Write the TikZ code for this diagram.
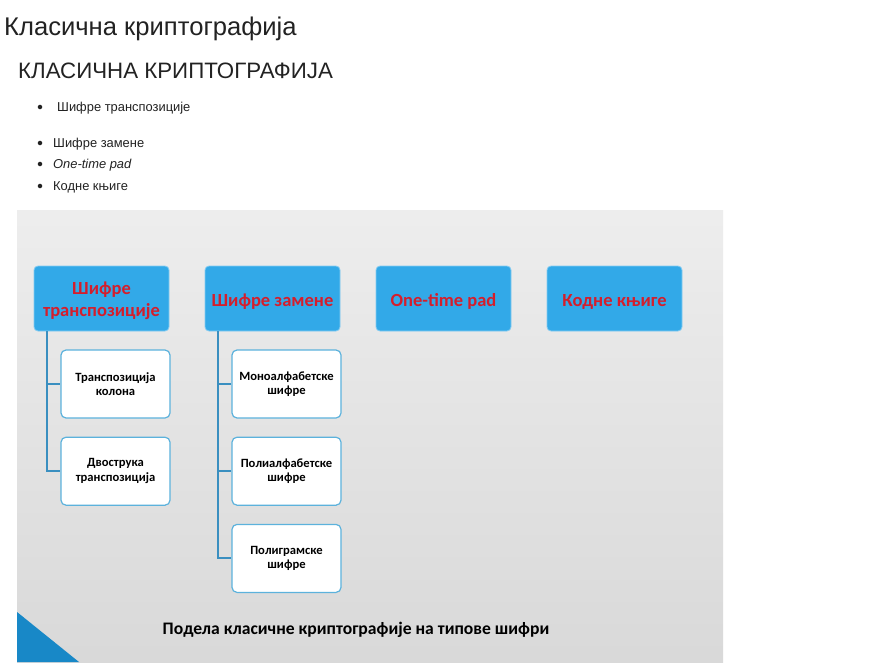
\documentclass[tikz,border=0pt]{standalone}
\usepackage{fontspec}
\setmainfont{Liberation Sans}
\newfontfamily\slidefont{Carlito}
\usetikzlibrary{positioning,calc}
\definecolor{slideblue}{RGB}{50,169,232}
\definecolor{slidered}{RGB}{212,30,44}
\definecolor{edgeblue}{RGB}{92,178,220}
\definecolor{lineblue}{RGB}{58,143,192}
\definecolor{cornerblue}{RGB}{24,136,199}
\definecolor{pagetext}{RGB}{34,34,34}
\newcommand{\capstrut}{\rule{0pt}{19pt}}

\begin{document}
\begin{tikzpicture}[
    x=1pt, y=-1pt,
    catbox/.style={rectangle, rounded corners=4pt, fill=slideblue, draw=slideblue!60!white, line width=0.8pt,
        minimum width=135pt, minimum height=65pt, align=center, inner sep=2pt,
        font=\slidefont\bfseries\fontsize{18.5}{22}\selectfont, text=slidered},
    subbox/.style={rectangle, rounded corners=5pt, fill=white, draw=edgeblue, line width=1.2pt,
        minimum width=109pt, minimum height=68pt, align=center, inner sep=2pt,
        font=\slidefont\bfseries\fontsize{12.6}{14.5}\selectfont, text=black},
    branch/.style={lineblue, line width=2pt},
    bullet/.style={circle, fill=pagetext, inner sep=1.6pt},
    item/.style={anchor=base west, font=\fontsize{12.9}{15}\selectfont, text=pagetext},
]
    \useasboundingbox (0,0) rectangle (870,671);
    \fill[white] (0,0) rectangle (870,671);

    % page heading and list
    \node[anchor=base west, inner sep=0pt, font=\fontsize{25.6}{30}\selectfont, text=pagetext] (title) at (4,36) {Класична криптографија};
    \node[anchor=base west, inner sep=0pt, font=\fontsize{22.3}{26}\selectfont, text=pagetext] (heading) at (18,79) {КЛАСИЧНА КРИПТОГРАФИЈА};
    \node[item, inner sep=0pt] (l1) at (57,112) {Шифре транспозиције};
    \node[item, inner sep=0pt] (l2) at (53,148) {Шифре замене};
    \node[item, inner sep=0pt] (l3) at (53,169) {\itshape One-time pad};
    \node[item, inner sep=0pt] (l4) at (53,191) {Кодне књиге};
    \foreach \y/\n in {107/1, 143/2, 164/3, 186/4} {
        \node[bullet] (b\n) at (40,\y) {};
    }

    % slide picture
    \shade[top color=white!93!black, bottom color=white!85!black] (17,211) rectangle (723,662);
    \fill[cornerblue] (17,612) -- (79,662) -- (17,662) -- cycle;

    \node[catbox] (trans) at (101.5,298.5) {\rule{0pt}{18pt}Шифре\\транспозиције};
    \node[catbox] (subst) at (272.5,298.5) {\capstrut Шифре замене};
    \node[catbox] (otp) at (443.5,298.5) {\capstrut One-time pad};
    \node[catbox] (codes) at (614.5,298.5) {\capstrut Кодне књиге};

    \node[subbox] (column) at (115.5,384) {Транспозиција\\колона};
    \node[subbox, below=18pt of column] (double) {Двострука\\транспозиција};
    \node[subbox] (mono) at (286.5,384) {Моноалфабетске\\шифре};
    \node[subbox, below=18pt of mono] (poly) {Полиалфабетске\\шифре};
    \node[subbox, below=18pt of poly] (polygram) {Полиграмске\\шифре};

    \coordinate (ttrunk) at ($(trans.south west)+(13,0)$);
    \coordinate (strunk) at ($(subst.south west)+(13,0)$);
    \draw[branch] (ttrunk) |- (column.west);
    \draw[branch] (ttrunk) |- (double.west);
    \draw[branch] (strunk) |- (mono.west);
    \draw[branch] (strunk) |- (poly.west);
    \draw[branch] (strunk) |- (polygram.west);

    \node[font=\slidefont\bfseries\fontsize{17.6}{20}\selectfont, text=black] (caption) at (356,630) {Подела класичне криптографије на типове шифри};
\end{tikzpicture}
\end{document}
